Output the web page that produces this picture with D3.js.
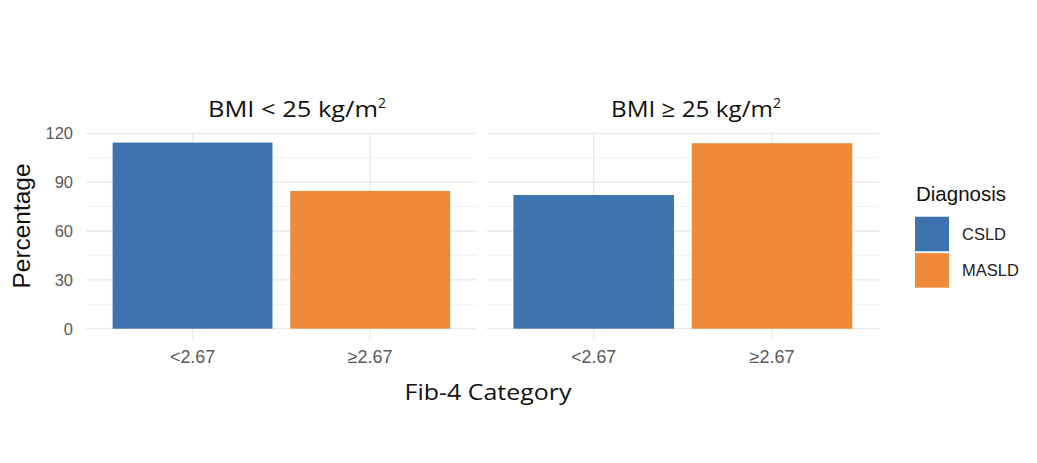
<!DOCTYPE html>
<html><head><meta charset="utf-8">
<script src="https://cdn.jsdelivr.net/npm/d3@7"></script>
<style>
html,body{margin:0;padding:0;background:#fff;}
svg{display:block;}
</style></head>
<body>
<script>
// ---- data ----
const panelTitles = ["BMI < 25 kg/m", "BMI \u2265 25 kg/m"]; // superscript 2 appended
const fibCategories = ["<2.67", "\u22652.67"];
const diagnoses = ["CSLD", "MASLD"];
const barDiagnosis = ["CSLD", "MASLD"]; // diagnosis of the bar in each Fib-4 category
const valuesBmiUnder25 = [114.3, 84.6];
const valuesBmiOver25 = [82.1, 113.9];
const yTicks = [0, 30, 60, 90, 120];
const yMinorTicks = [15, 45, 75, 105];
const colors = {CSLD: "#3D73AE", MASLD: "#EF8A3A"};

const panelValues = [valuesBmiUnder25, valuesBmiOver25];

const W = 1037, H = 463;
const svg = d3.select("body").append("svg").attr("width", W).attr("height", H);

const y = d3.scaleLinear().domain([0, 120]).range([328.7, 133.3]);
const panelRanges = [[86, 476.7], [486.7, 879]];
const titleCenters = [302, 701];
const titleWidths = [170, 162];

const textGray = "#5a5a5a";

panelRanges.forEach((rng, pi) => {
  const x = d3.scaleBand().domain(fibCategories).range(rng).paddingInner(0.1).paddingOuter(0.15);
  const g = svg.append("g");
  // minor grid
  g.selectAll("line.minor").data(yMinorTicks).join("line")
    .attr("x1", rng[0]).attr("x2", rng[1])
    .attr("y1", d => y(d)).attr("y2", d => y(d))
    .attr("stroke", "#f3f3f3").attr("stroke-width", 1);
  // major grid
  g.selectAll("line.major").data(yTicks).join("line")
    .attr("x1", rng[0]).attr("x2", rng[1])
    .attr("y1", d => y(d)).attr("y2", d => y(d))
    .attr("stroke", "#e9e9e9").attr("stroke-width", 1.3);
  // vertical grid
  g.selectAll("line.vert").data(fibCategories).join("line")
    .attr("x1", d => x(d) + x.bandwidth() / 2).attr("x2", d => x(d) + x.bandwidth() / 2)
    .attr("y1", y(120)).attr("y2", y(-6))
    .attr("stroke", "#e9e9e9").attr("stroke-width", 1.3);
  // bars
  g.selectAll("rect").data(fibCategories).join("rect")
    .attr("x", d => x(d)).attr("width", x.bandwidth())
    .attr("y", (d, i) => y(panelValues[pi][i]))
    .attr("height", (d, i) => y(0) - y(panelValues[pi][i]))
    .attr("fill", (d, i) => colors[barDiagnosis[i]]);
  // x tick labels
  g.selectAll("text.xt").data(fibCategories).join("text")
    .attr("x", d => x(d) + x.bandwidth() / 2).attr("y", 363)
    .attr("text-anchor", "middle")
    .attr("font-family", "Liberation Sans, Arial, sans-serif")
    .attr("font-size", 18).attr("fill", textGray)
    .attr("textLength", 45).attr("lengthAdjust", "spacingAndGlyphs")
    .text(d => d);
  // panel title
  const t = g.append("text")
    .attr("x", titleCenters[pi] - 5).attr("y", 117)
    .attr("text-anchor", "middle")
    .attr("font-family", "Open Sans, sans-serif")
    .attr("font-size", 22.5).attr("fill", "#111");
  t.append("tspan").attr("textLength", titleWidths[pi]).attr("lengthAdjust", "spacingAndGlyphs").text(panelTitles[pi]);
  t.append("tspan").attr("dy", -9).attr("font-size", 14).text("2");
});

// y tick labels
svg.selectAll("text.yt").data(yTicks).join("text")
  .attr("x", 73).attr("y", d => y(d) + 6)
  .attr("text-anchor", "end")
  .attr("font-family", "Liberation Sans, Arial, sans-serif")
  .attr("font-size", 16.5).attr("fill", textGray)
  .text(d => d);

// y axis title
svg.append("text")
  .attr("transform", "translate(30,226) rotate(-90)")
  .attr("text-anchor", "middle")
  .attr("font-family", "Liberation Sans, Arial, sans-serif")
  .attr("font-size", 23).attr("fill", "#111")
  .attr("textLength", 125).attr("lengthAdjust", "spacingAndGlyphs")
  .text("Percentage");

// x axis title
svg.append("text")
  .attr("x", 488).attr("y", 400)
  .attr("text-anchor", "middle")
  .attr("font-family", "Open Sans, sans-serif")
  .attr("font-size", 22).attr("fill", "#111")
  .attr("textLength", 167).attr("lengthAdjust", "spacingAndGlyphs")
  .text("Fib-4 Category");

// legend
const lg = svg.append("g");
lg.append("text").attr("x", 916).attr("y", 201)
  .attr("font-family", "Liberation Sans, Arial, sans-serif")
  .attr("font-size", 20.5).attr("fill", "#111").text("Diagnosis");
const keyY = d3.scaleBand().domain(diagnoses).range([216.7, 287.7]).paddingInner(0.05);
lg.selectAll("rect").data(diagnoses).join("rect")
  .attr("x", 915).attr("y", d => keyY(d)).attr("width", 34).attr("height", keyY.bandwidth())
  .attr("fill", d => colors[d]);
lg.selectAll("text.k").data(diagnoses).join("text")
  .attr("x", 962).attr("y", d => keyY(d) + keyY.bandwidth() / 2 + 6)
  .attr("font-family", "Liberation Sans, Arial, sans-serif")
  .attr("font-size", 16.5).attr("fill", "#222").text(d => d);
</script>
</body></html>
